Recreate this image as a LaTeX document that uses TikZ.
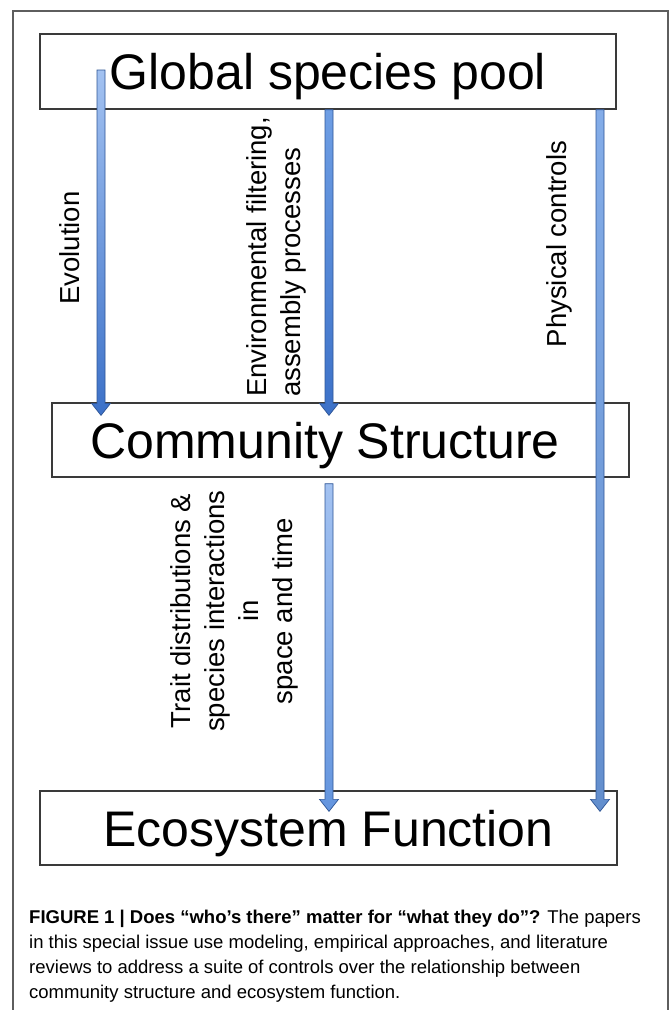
\documentclass[tikz,border=0pt]{standalone}
\usepackage{fontspec}
\setmainfont{Liberation Sans}
\usetikzlibrary{calc}
\definecolor{arrlight}{HTML}{A3C2F1}
\definecolor{arrmid}{HTML}{6E9EE4}
\definecolor{arrdark}{HTML}{3C71C8}
\definecolor{arredge}{HTML}{2E5596}
\definecolor{boxedge}{HTML}{3A3A3A}
\definecolor{framegray}{HTML}{5E5E5E}
\newcommand{\blockarrow}[4]{%
  \shade[top color=#3, bottom color=#4, draw=arredge, line width=0.7pt, line join=miter]
   ($(#1)+(-4,0)$) -- ($(#2)+(-4,-12)$) -- ($(#2)+(-9.5,-12)$) -- (#2) --
   ($(#2)+(9.5,-12)$) -- ($(#2)+(4,-12)$) -- ($(#1)+(4,0)$) -- cycle;}
\tikzset{
  bigbox/.style={draw=boxedge, line width=1.3pt, fill=white, inner sep=0pt,
    font=\fontsize{50}{60}\selectfont, text height=36pt, text depth=0pt},
  vlabel/.style={rotate=90, inner sep=0pt, font=\fontsize{27.5}{34}\selectfont},
  capline/.style={anchor=base west, inner sep=0pt, font=\fontsize{18.5}{25}\selectfont}
}
\begin{document}
\begin{tikzpicture}[x=1pt,y=-1pt]
\useasboundingbox (0,0) rectangle (671,1010);
\fill[white] (0,0) rectangle (671,1010);
% frame
\draw[framegray, line width=1.2pt] (13,1012) -- (13,11) -- (668,11) -- (668,1012);
% boxes
\node[bigbox, minimum width=576pt, minimum height=75pt] (gsp) at (328,71.5) {Global species pool};
\node[bigbox, minimum width=577pt, minimum height=74pt] (cs) at (340.5,440) {Community Structure\rule{31pt}{0pt}};
\node[bigbox, minimum width=577pt, minimum height=74pt] (ef) at (328.5,828) {Ecosystem Function};
% arrow end points
\coordinate (evoA) at (101,70);
\coordinate (evoB) at (cs.north -| evoA);
\coordinate (envA) at (gsp.south -| 329,0);
\coordinate (envB) at (cs.north -| envA);
\coordinate (phyA) at (gsp.south -| 600,0);
\coordinate (phyB) at (ef.north -| phyA);
\coordinate (trA) at ($(cs.south -| 329,0)+(0,6)$);
\coordinate (trB) at (ef.north -| trA);
% arrows
\blockarrow{evoA}{$(evoB)+(0,13)$}{arrlight}{arrdark}
\blockarrow{envA}{$(envB)+(0,13)$}{arrmid}{arrdark}
\blockarrow{phyA}{$(phyB)+(0,21)$}{arrmid!85!white}{arrmid!90!black}
\blockarrow{trA}{$(trB)+(0,21)$}{arrlight}{arrmid!80!arrdark}
% labels
\node[vlabel] (evo) at (70,248) {Evolution};
\node[vlabel, anchor=west, align=left] (env) at (276,397) {Environmental filtering,\\assembly processes};
\node[vlabel] (phy) at (559,244) {Physical controls};
\node[vlabel, align=center] (tr) at (234.5,611) {Trait distributions \&\\species interactions\\in\\space and time};
% caption
\node[capline] (c1) at (29,923) {\textbf{FIGURE 1 | Does “who’s there” matter for “what they do”?} The papers};
\node[capline] (c2) at (29,948) {in this special issue use modeling, empirical approaches, and literature};
\node[capline] (c3) at (29,973) {reviews to address a suite of controls over the relationship between};
\node[capline] (c4) at (29,998) {community structure and ecosystem function.};
\end{tikzpicture}
\end{document}
